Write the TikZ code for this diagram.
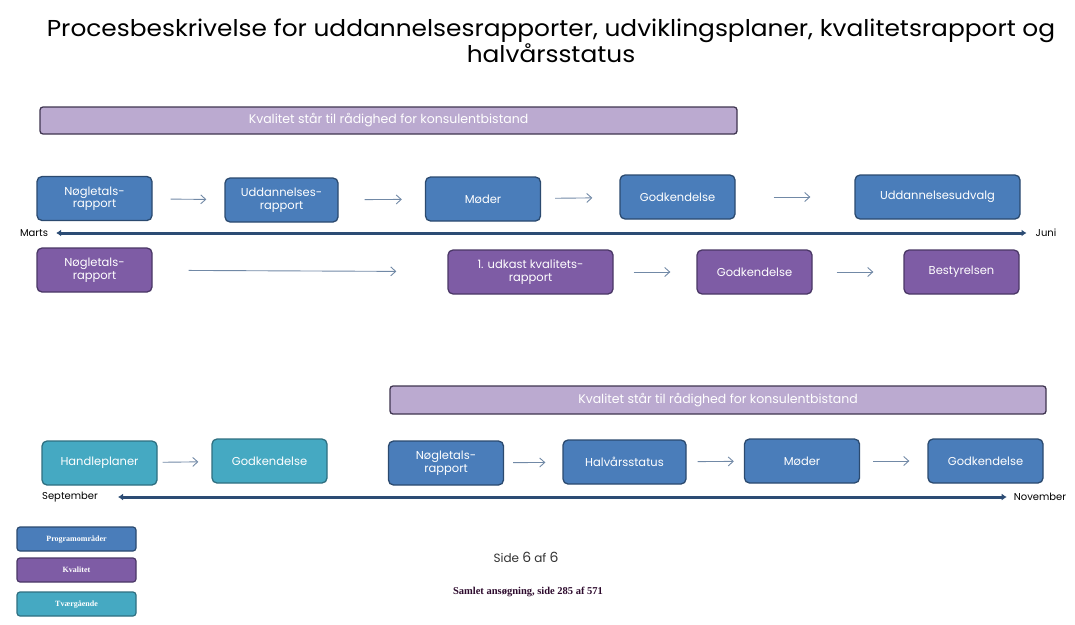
\documentclass[tikz,border=0pt]{standalone}
\usepackage{fontspec}
\setmainfont{Poppins}
\newfontfamily\footfont{Liberation Serif}
\usepackage{tikz,xcolor}
\usetikzlibrary{positioning,arrows.meta}
\definecolor{progblue}{HTML}{4A7DBA}
\definecolor{progline}{HTML}{2B4A6F}
\definecolor{kvalpurple}{HTML}{7E5CA5}
\definecolor{kvalline}{HTML}{4A3766}
\definecolor{tvaerteal}{HTML}{45A9C2}
\definecolor{tvaerline}{HTML}{2E6F80}
\definecolor{barlilac}{HTML}{BBAAD0}
\definecolor{barline}{HTML}{3F3550}
\definecolor{timeblue}{HTML}{2C4C74}
\definecolor{linkgray}{HTML}{7189A6}
\tikzset{
    box/.style={draw, line width=1.3pt, rounded corners=5pt, text=white, align=center,
        minimum width=115pt, minimum height=44pt, inner sep=2pt,
        font=\fontsize{11.5}{12.5}\selectfont},
    prog/.style={box, fill=progblue, draw=progline},
    kval/.style={box, fill=kvalpurple, draw=kvalline},
    tvaer/.style={box, fill=tvaerteal, draw=tvaerline},
    bar/.style={draw=barline, line width=1.3pt, fill=barlilac, rounded corners=3pt,
        text=white, minimum height=27pt, font=\fontsize{12.5}{13}\selectfont},
    legend/.style={draw, line width=1.2pt, rounded corners=3pt, text=white,
        minimum width=119pt, minimum height=24pt, font=\footfont\bfseries\fontsize{8}{9}\selectfont},
    month/.style={inner sep=0pt, font=\fontsize{10}{11}\selectfont},
    link/.style={draw=linkgray, line width=0.9pt, -{Straight Barb[length=5pt,width=9pt]},
        shorten <=18pt, shorten >=18pt}, % tynd pil mellem trin
    timeline/.style={draw=timeblue, line width=3pt, {Latex[length=5pt,width=7pt]}-{Latex[length=5pt,width=7pt]}}
}

\begin{document}
\begin{tikzpicture}[x=1pt, y=-1pt]
	\useasboundingbox (0,0) rectangle (1075,624);

	\node (title) [align=center, font=\fontsize{23}{21}\selectfont] at (551,41)
		{\scalebox{1.08}[1]{Procesbeskrivelse for uddannelsesrapporter, udviklingsplaner, kvalitetsrapport og}\\
		 \scalebox{1.08}[1]{halvårsstatus}};

	% marts - juni
	\node (bar1) [bar, minimum width=697pt] at (388.5,120.5) {Kvalitet står til rådighed for konsulentbistand};

	\node (p1) [prog] at (94.5,198.5) {Nøgletals-\\rapport};
	\node (p2) [prog, minimum width=113pt] at (281.5,200) {Uddannelses-\\rapport};
	\node (p3) [prog] at (483,199) {Møder};
	\node (p4) [prog] at (677.5,197) {Godkendelse};
	\node (p5) [prog, minimum width=165pt] at (937.5,197) {Uddannelsesudvalg};

	\node (marts) [month] at (34,233) {Marts};
	\node (juni) [month] at (1046,233) {Juni};

	\node (k1) [kval] at (94.5,270) {Nøgletals-\\rapport};
	\node (k2) [kval, minimum width=165pt] at (530.5,272) {1. udkast kvalitets-\\rapport};
	\node (k3) [kval] at (754.5,272) {Godkendelse};
	\node (k4) [kval] at (961.5,272) {Bestyrelsen};

	\draw[link] (p1) -- (p2);
	\draw[link, shorten <=26pt, shorten >=23pt] (p2) -- (p3);
	\draw[link, shorten <=14pt, shorten >=27pt] (p3) -- (p4);
	\draw[link, shorten <=38pt, shorten >=44pt] (p4) -- (p5);
	\draw[timeline, shorten <=8pt, shorten >=9pt] (marts.east) -- (juni.west);
	\draw[link, shorten <=36pt, shorten >=51pt] (k1) -- (k2);
	\draw[link, shorten <=20pt, shorten >=26pt] (k2) -- (k3);
	\draw[link, shorten <=24pt, shorten >=30pt] (k3) -- (k4);

	% september - november
	\node (bar2) [bar, minimum width=656pt, minimum height=28pt] at (718,400) {Kvalitet står til rådighed for konsulentbistand};

	\node (t1) [tvaer] at (99.5,463) {Handleplaner};
	\node (t2) [tvaer] at (269.5,461) {Godkendelse};
	\node (p6) [prog] at (446,463) {Nøgletals-\\rapport};
	\node (p7) [prog, minimum width=123pt] at (624.5,462) {Halvårsstatus};
	\node (p8) [prog] at (802,461) {Møder};
	\node (p9) [prog] at (985.5,461) {Godkendelse};

	\node (september) [month] at (70,497) {September};
	\node (november) [month] at (1040,497) {November};

	\draw[link, shorten <=5pt, shorten >=13pt] (t1) -- (t2);
	\draw[link, shorten <=9pt, shorten >=17pt] (p6) -- (p7);
	\draw[link, shorten <=11pt, shorten >=10pt] (p7) -- (p8);
	\draw[link, shorten <=13pt, shorten >=18pt] (p8) -- (p9);
	\draw[timeline, shorten <=20pt, shorten >=7pt] (september.east) -- (november.west);

	% signaturforklaring
	\node (leg1) [legend, fill=progblue, draw=progline] at (76.5,539) {Programområder};
	\node (leg2) [legend, fill=kvalpurple, draw=kvalline] at (76.5,570) {Kvalitet};
	\node (leg3) [legend, fill=tvaerteal, draw=tvaerline] at (76.5,604) {Tværgående};

	\node (side) [text=black!80, font=\fontsize{12}{13}\selectfont] at (526,557)
		{Side {\fontsize{14}{14}\selectfont 6} af {\fontsize{14}{14}\selectfont 6}};
	\node (samlet) [text={rgb,255:red,45;green,10;blue,45}, font=\footfont\bfseries\fontsize{10.5}{11}\selectfont] at (528,592)
		{Samlet ansøgning, side 285 af 571};
\end{tikzpicture}
\end{document}
